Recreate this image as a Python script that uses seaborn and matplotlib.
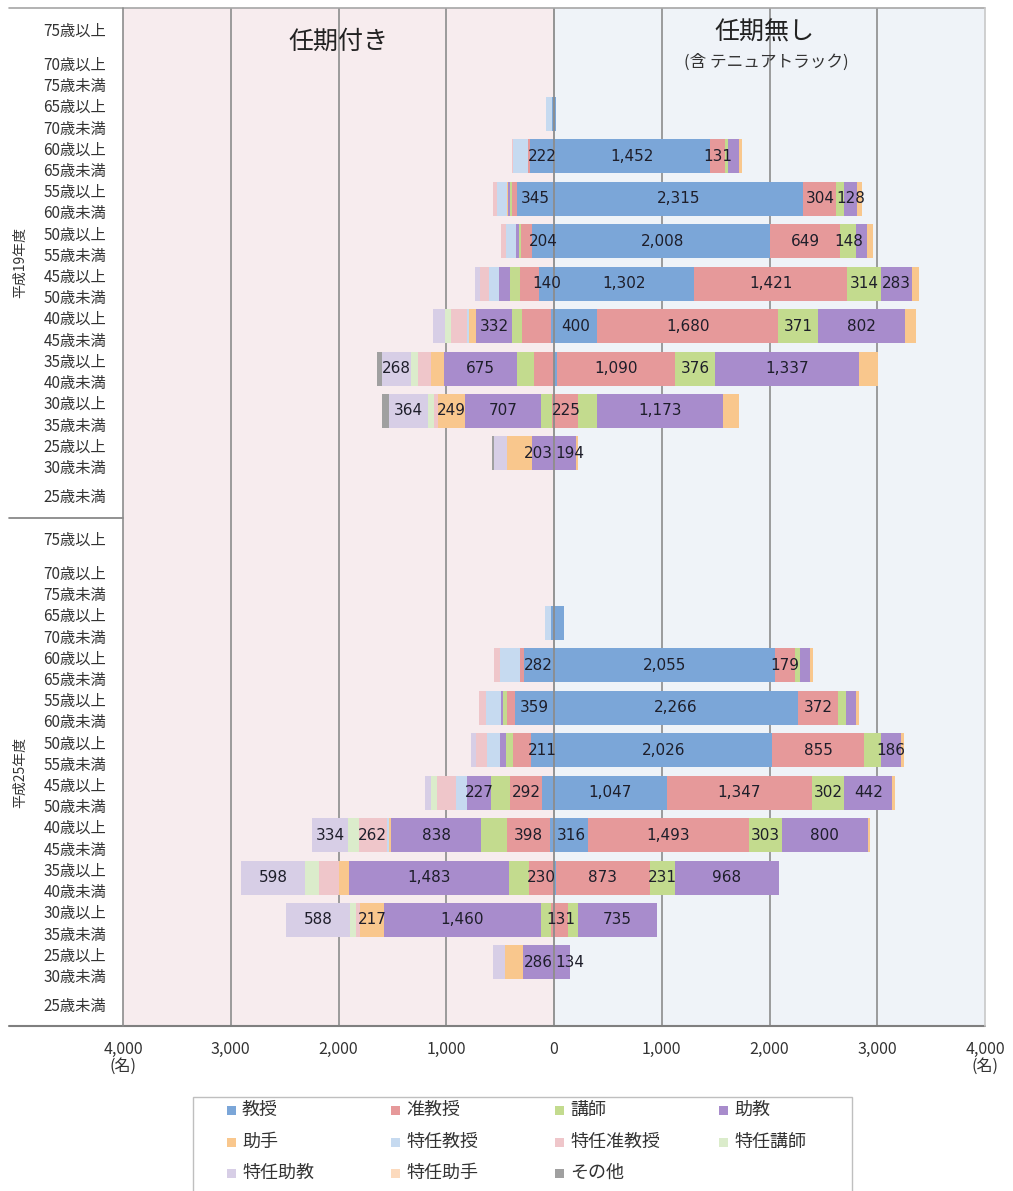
import numpy as np
import pandas as pd
import matplotlib
matplotlib.use("Agg")
import matplotlib.pyplot as plt
import seaborn as sns
from matplotlib.patches import Rectangle
from matplotlib.lines import Line2D

# ---- categories -------------------------------------------------------------
positions = ["教授", "准教授", "講師", "助教", "助手",
             "特任教授", "特任准教授", "特任講師", "特任助教", "特任助手", "その他"]
position_colors = ["#7ba6d8", "#e6999a", "#c3db8e", "#a88ccc", "#f9c78d",
                   "#c6daf0", "#efc6ca", "#dbeccb", "#d7cee6", "#fcdabd", "#a0a0a0"]

age_bands = ["75歳以上", "70歳以上\n75歳未満", "65歳以上\n70歳未満", "60歳以上\n65歳未満",
             "55歳以上\n60歳未満", "50歳以上\n55歳未満", "45歳以上\n50歳未満",
             "40歳以上\n45歳未満", "35歳以上\n40歳未満", "30歳以上\n35歳未満",
             "25歳以上\n30歳未満", "25歳未満"]
periods = ["平成19年度", "平成25年度"]

# ---- head counts (rows follow age_bands, columns follow positions) ----------
# 任期付き (fixed-term), H19
h19_fixed = [
    [0, 0, 0, 0, 0, 0, 0, 0, 0, 0, 0],
    [0, 0, 0, 0, 0, 0, 0, 0, 0, 0, 0],
    [15, 0, 0, 0, 0, 60, 0, 0, 0, 0, 0],
    [222, 20, 0, 0, 0, 140, 10, 0, 0, 0, 0],
    [345, 45, 20, 20, 5, 95, 40, 0, 0, 0, 0],
    [204, 100, 25, 25, 0, 95, 45, 0, 0, 0, 0],
    [140, 180, 90, 100, 0, 95, 80, 0, 45, 0, 0],
    [25, 270, 95, 332, 65, 20, 150, 55, 110, 0, 0],
    [0, 185, 160, 675, 125, 0, 115, 70, 268, 0, 45],
    [0, 20, 100, 707, 249, 0, 35, 60, 364, 0, 60],
    [0, 0, 0, 203, 235, 0, 0, 0, 115, 0, 25],
    [0, 0, 0, 0, 0, 0, 0, 0, 0, 0, 0],
]
# 任期無し (incl. tenure track), H19: 教授, 准教授, 講師, 助教, 助手
h19_open = [
    [0, 0, 0, 0, 0],
    [0, 0, 0, 0, 0],
    [20, 0, 0, 0, 0],
    [1452, 131, 35, 95, 30],
    [2315, 304, 68, 128, 40],
    [2008, 649, 148, 100, 60],
    [1302, 1421, 314, 283, 70],
    [400, 1680, 371, 802, 110],
    [30, 1090, 376, 1337, 175],
    [0, 225, 170, 1173, 150],
    [0, 10, 0, 194, 20],
    [0, 0, 0, 0, 0],
]
# 任期付き, H25
h25_fixed = [
    [0, 0, 0, 0, 0, 0, 0, 0, 0, 0, 0],
    [0, 0, 0, 0, 0, 0, 0, 0, 0, 0, 0],
    [25, 0, 0, 0, 0, 60, 0, 0, 0, 0, 0],
    [282, 35, 0, 0, 0, 185, 55, 0, 0, 0, 0],
    [359, 80, 30, 20, 0, 140, 70, 0, 0, 0, 0],
    [211, 165, 70, 55, 0, 125, 95, 0, 45, 0, 0],
    [115, 292, 175, 227, 0, 100, 180, 50, 60, 0, 0],
    [35, 398, 240, 838, 20, 20, 262, 95, 334, 0, 0],
    [0, 230, 190, 1483, 95, 0, 180, 130, 598, 0, 0],
    [0, 25, 95, 1460, 217, 0, 45, 55, 588, 0, 0],
    [0, 0, 0, 286, 165, 0, 0, 0, 115, 0, 0],
    [0, 0, 0, 0, 0, 0, 0, 0, 0, 0, 0],
]
# 任期無し, H25
h25_open = [
    [0, 0, 0, 0, 0],
    [0, 0, 0, 0, 0],
    [90, 0, 0, 0, 0],
    [2055, 179, 45, 95, 30],
    [2266, 372, 70, 95, 30],
    [2026, 855, 155, 186, 30],
    [1047, 1347, 302, 442, 25],
    [316, 1493, 303, 800, 20],
    [15, 873, 231, 968, 0],
    [0, 131, 93, 735, 0],
    [0, 10, 0, 134, 0],
    [0, 0, 0, 0, 0],
]

# segments that carry a value label: (age row, position)
h19_fixed_labels = [(3, "教授"), (4, "教授"), (5, "教授"), (6, "教授"), (7, "助教"),
                    (8, "助教"), (8, "特任助教"), (9, "助手"), (9, "助教"),
                    (9, "特任助教"), (10, "助教")]
h19_open_labels = [(3, "教授"), (3, "准教授"), (4, "教授"), (4, "准教授"), (4, "助教"),
                   (5, "教授"), (5, "准教授"), (5, "講師"), (6, "教授"), (6, "准教授"),
                   (6, "講師"), (6, "助教"), (7, "教授"), (7, "准教授"), (7, "講師"),
                   (7, "助教"), (8, "准教授"), (8, "講師"), (8, "助教"), (9, "准教授"),
                   (9, "助教"), (10, "助教")]
h25_fixed_labels = [(3, "教授"), (4, "教授"), (5, "教授"), (6, "准教授"), (6, "助教"),
                    (7, "准教授"), (7, "助教"), (7, "特任准教授"), (7, "特任助教"),
                    (8, "准教授"), (8, "助教"), (8, "特任助教"), (9, "助手"),
                    (9, "助教"), (9, "特任助教"), (10, "助教")]
h25_open_labels = [(3, "教授"), (3, "准教授"), (4, "教授"), (4, "准教授"), (5, "教授"),
                   (5, "准教授"), (5, "助教"), (6, "教授"), (6, "准教授"), (6, "講師"),
                   (6, "助教"), (7, "教授"), (7, "准教授"), (7, "講師"), (7, "助教"),
                   (8, "准教授"), (8, "講師"), (8, "助教"), (9, "准教授"), (9, "助教"),
                   (10, "助教")]

# ---- long table with stacked extents ---------------------------------------
records = []
tables = {("平成19年度", "fixed"): h19_fixed, ("平成19年度", "open"): h19_open,
          ("平成25年度", "fixed"): h25_fixed, ("平成25年度", "open"): h25_open}
label_sets = {("平成19年度", "fixed"): h19_fixed_labels, ("平成19年度", "open"): h19_open_labels,
              ("平成25年度", "fixed"): h25_fixed_labels, ("平成25年度", "open"): h25_open_labels}
for (period, side), rows in tables.items():
    p_idx = periods.index(period)
    sign = -1 if side == "fixed" else 1
    labelled = set(label_sets[(period, side)])
    for a_idx, row in enumerate(rows):
        vals = list(row) + [0] * (len(positions) - len(row))
        cum = np.cumsum(vals)
        for k, pos in enumerate(positions):
            records.append(dict(period=period, side=side, age=a_idx,
                                row=f"r{p_idx * 12 + a_idx:02d}", position=pos,
                                value=vals[k], start=sign * (cum[k] - vals[k]),
                                end=sign * cum[k],
                                labelled=(a_idx, pos) in labelled))
df = pd.DataFrame(records)
row_order = [f"r{i:02d}" for i in range(24)]

# ---- figure ---------------------------------------------------------------
sns.set_style("white")
plt.rcParams["font.family"] = ["Noto Sans CJK JP", "DejaVu Sans"]

W, H = 1013, 1191
fig = plt.figure(figsize=(W / 100, H / 100), dpi=100)
ax = fig.add_axes([123 / W, 1 - 1026 / H, 862 / W, 1018 / H])

ax.axvspan(-4000, 0, color="#f7ecee", zorder=0, lw=0)
ax.axvspan(0, 4000, color="#eff3f8", zorder=0, lw=0)
for gx in [-3000, -2000, -1000, 1000, 2000, 3000]:
    ax.axvline(gx, color="#8c8c8c", lw=1.2, zorder=0.5)

# stacked bars: outer segments first, inner segments painted over them
for side in ["fixed", "open"]:
    for pos, col in reversed(list(zip(positions, position_colors))):
        sub = df[(df.side == side) & (df.position == pos)]
        sns.barplot(data=sub, x="end", y="row", order=row_order, orient="h",
                    color=col, saturation=1, errorbar=None, width=0.8,
                    linewidth=0, ax=ax, zorder=2)

ax.axvline(0, color="#8c8c8c", lw=1.3, zorder=5)

# value labels; when the labels nearest zero on both sides would collide,
# they are anchored outward from the centre line instead
row_pos = {r: i for i, r in enumerate(row_order)}
lab = df[df.labelled].copy()
lab["mid"] = (lab.start + lab.end) / 2
lab["ha"] = "center"
lab["x"] = lab["mid"]
digit_w = 95.0  # approx. width of one character in data units
for row_key, grp in lab.groupby("row"):
    lft = grp[grp.side == "fixed"]
    rgt = grp[grp.side == "open"]
    if lft.empty or rgt.empty:
        continue
    li = lft.mid.idxmax()
    ri = rgt.mid.idxmin()
    half_l = len(f"{lab.at[li, 'value']:,}") * digit_w / 2
    half_r = len(f"{lab.at[ri, 'value']:,}") * digit_w / 2
    if (lab.at[ri, "mid"] - half_r) < (lab.at[li, "mid"] + half_l):
        lab.at[li, "x"] = -10
        lab.at[li, "ha"] = "right"
        lab.at[ri, "x"] = 10
        lab.at[ri, "ha"] = "left"

for _, r in lab.iterrows():
    ax.text(r.x, row_pos[r.row], f"{r.value:,}",
            ha=r.ha, va="center", fontsize=11, color="#1e1e2a",
            family="DejaVu Sans", zorder=6)

ax.set_xlim(-4000, 4000)
ax.set_ylim(23.5, -0.5)
ax.set_xlabel("")
ax.set_ylabel("")
xt = np.arange(-4000, 4001, 1000)
ax.set_xticks(xt)
ax.set_xticklabels([f"{abs(v):,}\n(名)" if abs(v) == 4000 else f"{abs(v):,}" for v in xt],
                   fontsize=11.5, color="#333333", linespacing=1.0)
ax.set_yticks(range(24))
ax.set_yticklabels(age_bands * 2, fontsize=11, color="#333333", linespacing=1.35)
ax.tick_params(axis="both", length=0)
ax.tick_params(axis="y", pad=12)
ax.tick_params(axis="x", pad=11)
for s in ax.spines.values():
    s.set_visible(False)

# frame lines of the table-like layout
def hline(y, x0, x1, color, lw=1.2):
    fig.add_artist(Line2D([x0 / W, x1 / W], [1 - y / H, 1 - y / H], color=color, lw=lw))

def vline(x, y0, y1, color, lw=1.2):
    fig.add_artist(Line2D([x / W, x / W], [1 - y0 / H, 1 - y1 / H], color=color, lw=lw))

hline(8, 9, 985, "#a6a6a6")
hline(1026, 9, 985, "#7f7f7f", lw=1.5)
hline(518, 9, 123, "#7f7f7f")
vline(123, 8, 1026, "#8c8c8c")
vline(985, 8, 1026, "#c8c8c8")

# period labels on the far left
fig.text(20 / W, 1 - 263 / H, periods[0], rotation=90, ha="center", va="center",
         fontsize=10, color="#333333")
fig.text(20 / W, 1 - 772 / H, periods[1], rotation=90, ha="center", va="center",
         fontsize=10, color="#333333")

# side headings
fig.text(338 / W, 1 - 42 / H, "任期付き", ha="center", va="center", fontsize=18, color="#222222")
fig.text(764 / W, 1 - 33 / H, "任期無し", ha="center", va="center", fontsize=18, color="#222222")
fig.text(766 / W, 1 - 62 / H, "(含 テニュアトラック)", ha="center", va="center",
         fontsize=12, color="#333333")

# legend box (row-wise, four columns)
fig.add_artist(Rectangle((193 / W, 1 - 1200 / H), (852 - 193) / W, (1200 - 1097) / H,
                         transform=fig.transFigure, facecolor="white",
                         edgecolor="#bfbfbf", lw=1.0))
for i, (pos, col) in enumerate(zip(positions, position_colors)):
    r, c = divmod(i, 4)
    x = 227 + 164 * c
    y = 1110 + 31.5 * r
    fig.add_artist(Rectangle((x / W, 1 - (y + 5) / H), 9 / W, 9 / H,
                             transform=fig.transFigure, facecolor=col, lw=0))
    fig.text((x + 15) / W, 1 - y / H, pos, ha="left", va="center", fontsize=13,
             color="#333333")

fig.savefig("out.png", dpi=100)
